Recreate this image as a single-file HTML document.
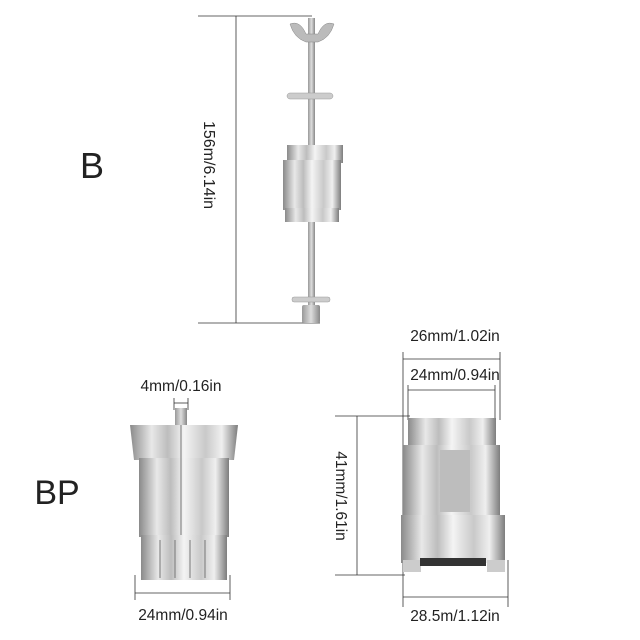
<!DOCTYPE html>
<html><head><style>body{margin:0;background:#fff}svg{display:block}text{font-family:"Liberation Sans",sans-serif;fill:#222}</style></head><body>
<svg width="640" height="640" viewBox="0 0 640 640" xmlns="http://www.w3.org/2000/svg">
<defs>
<linearGradient id="m" x1="0" x2="1" y1="0" y2="0">
<stop offset="0" stop-color="#8a8a8a"/><stop offset="0.2" stop-color="#e8e8e8"/><stop offset="0.35" stop-color="#bdbdbd"/><stop offset="0.5" stop-color="#f4f4f4"/><stop offset="0.7" stop-color="#c9c9c9"/><stop offset="0.85" stop-color="#efefef"/><stop offset="1" stop-color="#7d7d7d"/>
</linearGradient>
<linearGradient id="r" x1="0" x2="1"><stop offset="0" stop-color="#999"/><stop offset="0.5" stop-color="#ddd"/><stop offset="1" stop-color="#888"/></linearGradient>
</defs>
<g stroke="#333" stroke-width="0.8" fill="none">
<line x1="198" y1="16" x2="312" y2="16"/><line x1="198" y1="323" x2="320" y2="323"/><line x1="236" y1="16" x2="236" y2="323"/>
<line x1="174" y1="403" x2="188" y2="403"/><line x1="174" y1="398" x2="174" y2="410"/><line x1="188" y1="398" x2="188" y2="410"/>
<line x1="135" y1="593" x2="230" y2="593"/><line x1="135" y1="575" x2="135" y2="600"/><line x1="230" y1="575" x2="230" y2="600"/>
<line x1="403" y1="359" x2="500" y2="359"/><line x1="403" y1="352" x2="403" y2="607"/><line x1="500" y1="352" x2="500" y2="420"/>
<line x1="408" y1="390" x2="495" y2="390"/><line x1="408" y1="385" x2="408" y2="420"/><line x1="495" y1="385" x2="495" y2="420"/>
<line x1="357" y1="416" x2="357" y2="575"/><line x1="335" y1="416" x2="410" y2="416"/><line x1="335" y1="575" x2="405" y2="575"/>
<line x1="403" y1="597" x2="508" y2="597"/><line x1="508" y1="560" x2="508" y2="607"/>
</g>
<rect x="308" y="18" width="7" height="300" fill="url(#r)"/>
<path d="M290 24 Q300 20 306 34 L318 34 Q324 20 334 24 Q330 38 318 42 L306 42 Q294 38 290 24Z" fill="#bbb" stroke="#888" stroke-width="0.5"/>
<rect x="287" y="93" width="46" height="6" rx="3" fill="#ccc" stroke="#999" stroke-width="0.5"/>
<rect x="287" y="145" width="56" height="18" fill="url(#m)"/>
<rect x="283" y="160" width="58" height="50" fill="url(#m)"/>
<rect x="285" y="208" width="54" height="14" fill="url(#m)"/>
<rect x="292" y="297" width="38" height="5" rx="2" fill="#ccc" stroke="#999" stroke-width="0.5"/>
<rect x="302" y="305" width="18" height="18" rx="2" fill="url(#r)"/>
<text x="0" y="0" font-size="16" transform="translate(204,165) rotate(90)" text-anchor="middle">156m/6.14in</text>
<text x="92" y="178" font-size="36" text-anchor="middle">B</text>
<text x="57" y="504" font-size="34" text-anchor="middle">BP</text>
<rect x="175" y="408" width="12" height="20" fill="url(#r)"/>
<path d="M130 425 L238 425 L234 460 L134 460Z" fill="url(#m)"/>
<rect x="139" y="458" width="90" height="79" fill="url(#m)"/>
<rect x="141" y="535" width="86" height="45" fill="url(#m)"/>
<g stroke="#777" stroke-width="1"><line x1="160" y1="540" x2="160" y2="578"/><line x1="175" y1="540" x2="175" y2="578"/><line x1="190" y1="540" x2="190" y2="578"/><line x1="205" y1="540" x2="205" y2="578"/><line x1="181" y1="425" x2="181" y2="535"/></g>
<text x="181" y="391" font-size="15.5" text-anchor="middle">4mm/0.16in</text>
<text x="183" y="620" font-size="15.5" text-anchor="middle">24mm/0.94in</text>
<rect x="408" y="418" width="88" height="30" fill="url(#m)"/>
<rect x="403" y="445" width="97" height="72" fill="url(#m)"/>
<rect x="440" y="450" width="30" height="62" fill="#bdbdbd"/>
<rect x="401" y="515" width="104" height="48" fill="url(#m)"/>
<rect x="403" y="560" width="18" height="12" fill="#ccc"/><rect x="487" y="560" width="18" height="12" fill="#ccc"/>
<rect x="420" y="558" width="66" height="8" fill="#333"/>
<text x="455" y="341" font-size="15.5" text-anchor="middle">26mm/1.02in</text>
<text x="455" y="380" font-size="15.5" text-anchor="middle">24mm/0.94in</text>
<text x="0" y="0" font-size="15.5" transform="translate(336,496) rotate(90)" text-anchor="middle">41mm/1.61in</text>
<text x="455" y="621" font-size="15.5" text-anchor="middle">28.5m/1.12in</text>
</svg>
</body></html>
